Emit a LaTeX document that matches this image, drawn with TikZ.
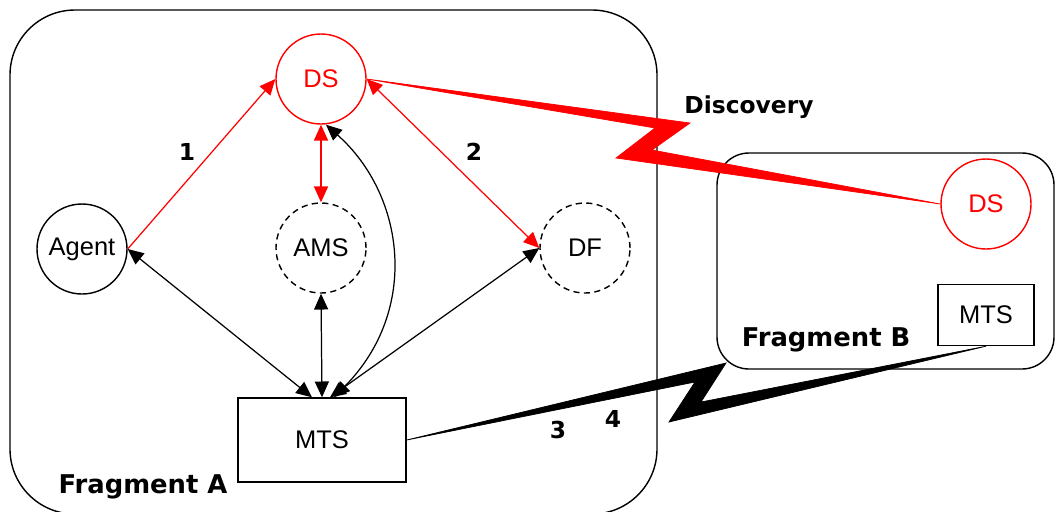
\documentclass[tikz,border=0pt]{standalone}
\usepackage{fontspec}
\setmainfont{Liberation Sans}
\newfontfamily\labelfont{DejaVu Sans}
\usetikzlibrary{arrows.meta}

\begin{document}
\begin{tikzpicture}[x=0.2mm, y=-0.2mm,
        >={Triangle[length=9pt,width=8pt]},
        every node/.style={font=\fontsize{14.5}{17}\selectfont},
        agentnode/.style={circle, draw, line width=0.8pt, minimum size=18mm, inner sep=0pt},
        servicenode/.style={agentnode, dash pattern=on 3.5pt off 2.5pt},
        dsnode/.style={agentnode, draw=red, text=red},
        mtsbox/.style={rectangle, draw, line width=0.8pt},
        link/.style={line width=0.7pt, <->},
        redlink/.style={link, red},
        steplabel/.style={font=\labelfont\bfseries\fontsize{13.3}{16}\selectfont},
        fraglabel/.style={font=\labelfont\bfseries\fontsize{14.7}{17}\selectfont}]
        \useasboundingbox (0,0) rectangle (1055,511);

        % fragments
        \draw[line width=0.8pt, rounded corners=13mm] (10,10) rectangle (657,514);
        \draw[line width=0.8pt, rounded corners=6.4mm] (717,153) rectangle (1054,369);

        % platform components
        \node[dsnode] (dsA) at (321,79) {DS};
        \node[agentnode] (agent) at (82,249) {Agent};
        \node[servicenode] (ams) at (321,248) {AMS};
        \node[servicenode] (df) at (585,248) {DF};
        \node[mtsbox, minimum width=33.6mm, minimum height=16.8mm] (mtsA) at (322,440) {MTS};
        \node[dsnode] (dsB) at (986,204) {DS};
        \node[mtsbox, minimum width=19.2mm, minimum height=12.2mm] (mtsB) at (986,315) {MTS};

        \node[steplabel] (one) at (187,152) {1};
        \node[steplabel] (two) at (474,152) {2};
        \node[steplabel] (three) at (558,430) {3};
        \node[steplabel] (four) at (613,419) {4};
        \node[steplabel] (disc) at (749,107) {Discovery};
        \node[fraglabel] (fragA) at (143,487) {Fragment A};
        \node[fraglabel] (fragB) at (826,340) {Fragment B};

        % lightning links
        \filldraw[red, line width=0.4pt] (dsA.east) -- (690,123) -- (652,150) -- (dsB.west)
            -- (616,158) -- (655,128) -- cycle;
        \filldraw[black, line width=0.4pt] (mtsA.east) -- (726,363) -- (701,402) -- (mtsB.south)
            -- (669,422) -- (695,382) -- cycle;

        % arrows
        \draw[redlink, ->] (agent.east) -- (dsA.west);
        \draw[redlink] (dsA.east) -- (df.west);
        \draw[redlink] (dsA.south) -- (ams.north);
        \draw[link] (agent.east) -- ([xshift=-2mm]mtsA.north);
        \draw[link] (ams.south) -- (mtsA.north);
        \draw[link] (df.west) -- ([xshift=1.6mm]mtsA.north);
        \draw[link] ([xshift=2.4mm]mtsA.north) .. controls (420,310) and (405,195) .. ([xshift=1mm]dsA.south);
\end{tikzpicture}
\end{document}
